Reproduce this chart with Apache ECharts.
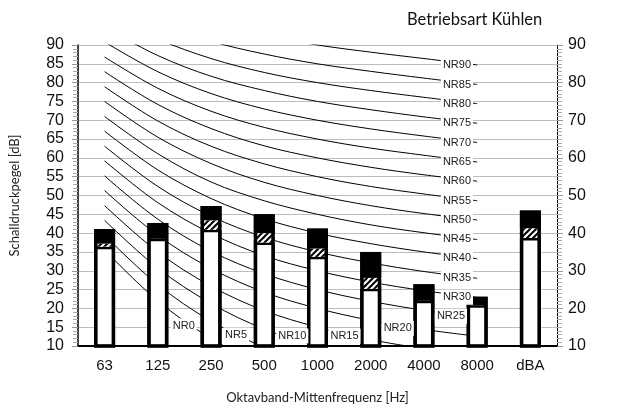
<!DOCTYPE html>
<html>
<head>
<meta charset="utf-8">
<script src="https://cdn.jsdelivr.net/npm/echarts@6/dist/echarts.min.js"></script>
<style>
html,body{margin:0;padding:0;background:#fff;}
#chart{width:621px;height:409px;}
</style>
</head>
<body>
<div id="chart"></div>
<script>
// ---- data ----
const categories = ['63','125','250','500','1000','2000','4000','8000','dBA'];
const whiteTop = [36.4, 38.5, 40.9, 37.5, 33.7, 25.2, 22.0, 20.8, 38.7];
const hatchTop = [37.2, 38.5, 43.4, 40.0, 35.9, 28.1, 22.0, 20.8, 41.3];
const totalTop = [41.1, 42.7, 47.2, 45.0, 41.2, 35.0, 26.4, 23.1, 46.0];

const yTicksLeft = [10,15,20,25,30,35,40,45,50,55,60,65,70,75,80,85,90];
const yTicksRight = [10,20,30,40,50,60,70,80,90];

const nrLevels = [0,5,10,15,20,25,30,35,40,45,50,55,60,65,70,75,80,85,90];
const NR0  = [35.5, 22.0, 12.0,  4.8,  0.0, -3.5, -6.1, -8.0];
const NR5  = [39.4, 26.3, 16.6,  9.7,  5.0,  1.6, -1.0, -2.8];
const NR10 = [43.4, 30.7, 21.3, 14.5, 10.0,  6.6,  4.2,  2.3];
const NR15 = [47.3, 35.0, 25.9, 19.4, 15.0, 11.7,  9.3,  7.4];
const NR20 = [51.3, 39.4, 30.6, 24.3, 20.0, 16.8, 14.4, 12.6];
const NR25 = [55.2, 43.7, 35.2, 29.2, 25.0, 21.9, 19.5, 17.7];
const NR30 = [59.2, 48.1, 39.9, 34.0, 30.0, 27.0, 24.7, 22.9];
const NR35 = [63.1, 52.4, 44.5, 38.9, 35.0, 32.1, 29.8, 28.0];
const NR40 = [67.1, 56.8, 49.2, 43.8, 40.0, 37.2, 35.0, 33.2];
const NR45 = [71.0, 61.1, 53.6, 48.6, 45.0, 42.2, 40.1, 38.3];
const NR50 = [75.0, 65.5, 58.5, 53.5, 50.0, 47.3, 45.2, 43.5];
const NR55 = [78.9, 69.8, 63.1, 58.4, 55.0, 52.4, 50.4, 48.6];
const NR60 = [82.9, 74.2, 67.8, 63.2, 60.0, 57.5, 55.5, 53.8];
const NR65 = [86.8, 78.5, 72.4, 68.1, 65.0, 62.6, 60.7, 58.9];
const NR70 = [90.8, 82.9, 77.1, 73.0, 70.0, 67.7, 65.8, 64.1];
const NR75 = [94.7, 87.2, 81.7, 77.9, 75.0, 72.8, 70.9, 69.2];
const NR80 = [98.7, 91.6, 86.4, 82.7, 80.0, 77.9, 76.1, 74.4];
const NR85 = [102.6, 95.9, 91.0, 87.6, 85.0, 83.0, 81.2, 79.5];
const NR90 = [106.6, 100.3, 95.7, 92.5, 90.0, 88.1, 86.4, 84.7];
const nrCurves = [NR0,NR5,NR10,NR15,NR20,NR25,NR30,NR35,NR40,NR45,NR50,NR55,NR60,NR65,NR70,NR75,NR80,NR85,NR90];

// ---- styling helpers ----
function hatchPattern(){
  const c = document.createElement('canvas');
  c.width = 6; c.height = 6;
  const g = c.getContext('2d');
  g.fillStyle = '#000'; g.fillRect(0,0,6,6);
  g.strokeStyle = '#fff'; g.lineWidth = 2.2;
  [[-6,6,0,0],[0,6,6,0],[6,6,12,0]].forEach(function(s){
    g.beginPath(); g.moveTo(s[0]-1, s[1]+1); g.lineTo(s[2]+1, s[3]-1); g.stroke();
  });
  return c;
}
// label anchor (category index) and pixel offsets per NR level
function labelAnchor(level){
  if (level === 0) return {idx:1, off:[26,25]};
  if (level === 5) return {idx:2, off:[25,14]};
  if (level === 10) return {idx:3, off:[28,7]};
  if (level === 15) return {idx:4, off:[27,9]};
  if (level === 20) return {idx:5, off:[27,8]};
  if (level === 25) return {idx:6, off:[27,6]};
  return {idx:6, off:[33,6.5]};
}

const chart = echarts.init(document.getElementById('chart'), null, {renderer:'canvas'});
const series = [];
nrCurves.forEach(function(curve, i){
  const lvl = nrLevels[i];
  const a = labelAnchor(lvl);
  series.push({
    type:'line', name:'NR'+lvl, data: curve, smooth: 0.35, symbol:'none',
    lineStyle:{color:'#000', width:1}, z:2, silent:true,
    markPoint:{
      symbol:'rect', symbolSize:0, z:10, silent:true,
      data:[{coord:[a.idx, curve[a.idx]], value:'NR'+lvl}],
      label:{show:true, formatter:'NR'+lvl, position:'inside', offset:a.off,
        color:'#222', fontFamily:'Liberation Sans, Arial, sans-serif', fontSize:11,
        backgroundColor:'#fff', padding:[2,2]}
    }
  });
});
const hatchSeg = hatchTop.map(function(v,i){ return +(v - whiteTop[i]).toFixed(2); });
const blackSeg = totalTop.map(function(v,i){ return +(v - hatchTop[i]).toFixed(2); });
series.push({type:'bar', stack:'s', data: whiteTop, barWidth:21, barGap:'-100%', z:4,
  itemStyle:{color:'#fff', borderColor:'#000', borderWidth:2.5}});
series.push({type:'bar', stack:'s', data: hatchSeg, barWidth:21, barGap:'-100%', z:4,
  itemStyle:{color:{image: hatchPattern(), repeat:'repeat'}, borderWidth:0}});
series.push({type:'bar', stack:'s', data: blackSeg, barWidth:21, barGap:'-100%', z:4,
  itemStyle:{color:'#000', borderWidth:0}});
series.push({type:'bar', data: totalTop, barWidth:21, barGap:'-100%', z:5,
  itemStyle:{color:'rgba(0,0,0,0)', borderColor:'#000', borderWidth:3.5}});

const xFont = {fontFamily:'Liberation Sans, Arial, sans-serif', fontSize:15, color:'#111'};
const yFont = {fontFamily:'Liberation Sans, Arial, sans-serif', fontSize:16, color:'#111'};
chart.setOption({
  animation:false,
  backgroundColor:'#fff',
  title:{text:'Betriebsart Kühlen', left:402, top:6,
    textStyle:{fontFamily:'Lato, sans-serif', fontSize:16.5, fontWeight:'normal', color:'#111'}},
  grid:{left:73, right:64, top:45, bottom:62},
  xAxis:{type:'category', data: categories,
    name:'Oktavband-Mittenfrequenz [Hz]', nameLocation:'middle', nameGap:45,
    nameTextStyle:{fontFamily:'Lato, sans-serif', fontSize:13, color:'#222'},
    axisLine:{lineStyle:{color:'#000', width:2}}, axisTick:{show:false},
    axisLabel:Object.assign({margin:12}, xFont)},
  yAxis:[
    {type:'value', min:yTicksLeft[0], max:yTicksLeft[yTicksLeft.length-1], interval:5,
     name:'Schalldruckpegel [dB]', nameLocation:'middle', nameGap:57,
     nameTextStyle:{fontFamily:'Lato, sans-serif', fontSize:13, color:'#222'},
     axisLine:{show:true, lineStyle:{color:'#000', width:1.5}},
     axisTick:{show:true, length:6, lineStyle:{color:'#999'}},
     minorTick:{show:true, splitNumber:5, length:5, lineStyle:{color:'#aaa'}},
     splitLine:{show:true, lineStyle:{color:'#bdbdbd', width:1}},
     axisLabel:Object.assign({margin:14, formatter:function(v){return yTicksLeft.indexOf(v)>=0?String(v):'';}}, yFont)},
    {type:'value', min:yTicksRight[0], max:yTicksRight[yTicksRight.length-1], interval:10, position:'right',
     axisLine:{show:true, lineStyle:{color:'#000', width:1}},
     axisTick:{show:true, length:6, lineStyle:{color:'#999'}},
     minorTick:{show:true, splitNumber:10, length:5, lineStyle:{color:'#aaa'}},
     splitLine:{show:false},
     axisLabel:Object.assign({margin:11}, yFont)}
  ],
  series: series
});
</script>
</body>
</html>
